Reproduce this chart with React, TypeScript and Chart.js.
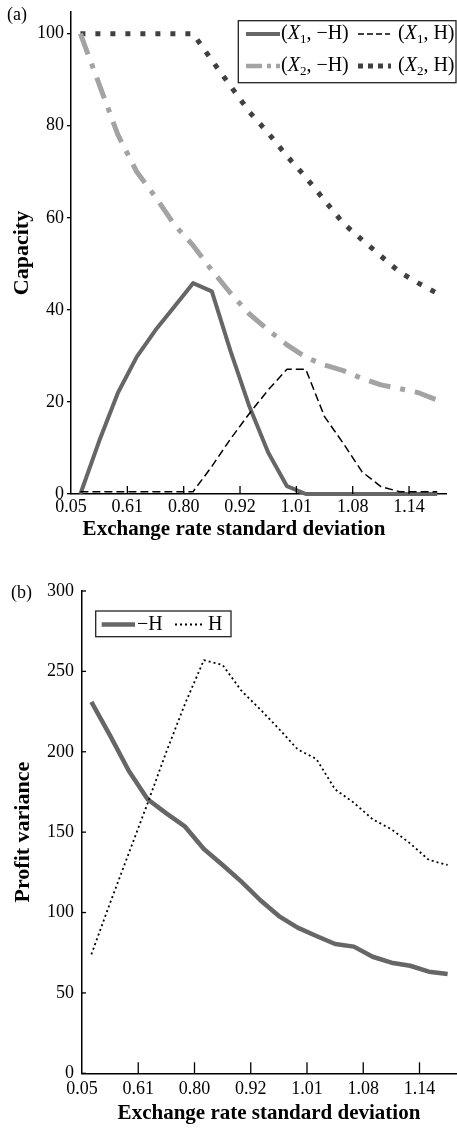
import React, { useEffect, useRef } from "react";
import { Chart, registerables } from "chart.js";

Chart.register(...registerables);

const FONT = "'Liberation Serif', 'Times New Roman', serif";

// ---------- data ----------
const sampleIndex = [0, 1, 2, 3, 4, 5, 6, 7, 8, 9, 10, 11, 12, 13, 14, 15, 16, 17, 18, 19];
const xTickPositions = [-0.5, 2.5, 5.5, 8.5, 11.5, 14.5, 17.5];
const xTickLabels = ["0.05", "0.61", "0.80", "0.92", "1.01", "1.08", "1.14"];

const capacityTicks = [0, 20, 40, 60, 80, 100];
const varianceTicks = [0, 50, 100, 150, 200, 250, 300];

const capX1NoHedge = [0, 11.5, 22, 29.8, 35.6, 40.7, 45.8, 44, 31, 19, 9, 1.7, 0, 0, 0, 0, 0, 0, 0, 0];
const capX1Hedge = [0.5, 0.5, 0.5, 0.5, 0.5, 0.5, 0.5, 6, 12, 17.5, 22.6, 27.1, 27.1, 16.8, 11, 4.8, 1.6, 0.5, 0.5, 0.5];
const capX2NoHedge = [100, 89, 78, 70, 64.5, 58.5, 54, 48.6, 43.6, 39.1, 35.6, 32.4, 29.7, 28, 26.8, 25.1, 23.7, 22.9, 22, 20.4];
const capX2Hedge = [100, 100, 100, 100, 100, 100, 100, 94.2, 88.6, 83, 78.4, 73.4, 68.8, 63.8, 58.8, 55.2, 51.7, 48.2, 45.8, 43.6];

const varNoHedge = [231, 210, 188, 170.5, 161.7, 153.4, 139.5, 129.6, 119.2, 107.8, 97.8, 90.6, 85.4, 80.4, 78.8, 72.5, 68.8, 66.9, 63.2, 61.8];
const varHedge = [74, 106, 137, 168, 200, 230, 257, 254, 238, 226.4, 214.3, 201.5, 195.5, 176.6, 168.3, 158, 151.8, 143, 132.7, 129.6];

const toPoints = (vals: number[]) => sampleIndex.map((x, i) => ({ x, y: vals[i] }));

// ---------- decoration plugin ----------
type Part = { text: string; italic?: boolean; sub?: boolean };
type LegendEntry = {
  y: number; sx0: number; sx1: number; tx: number;
  color: string; width: number; dash: number[]; parts: Part[];
};

function drawRich(ctx: CanvasRenderingContext2D, x: number, y: number, parts: Part[], size: number) {
  let cx = x;
  ctx.textBaseline = "middle";
  ctx.textAlign = "left";
  for (const p of parts) {
    const s = p.sub ? Math.round(size * 0.65) : size;
    ctx.font = `${p.italic ? "italic " : ""}${s}px ${FONT}`;
    ctx.fillText(p.text, cx, y + (p.sub ? size * 0.27 : 0));
    cx += ctx.measureText(p.text).width;
  }
}

const decorPlugin = {
  id: "panelDecor",
  afterDraw(chart: any, _args: any, opts: any) {
    const ctx: CanvasRenderingContext2D = chart.ctx;
    const { left, bottom } = chart.chartArea;
    ctx.save();
    ctx.strokeStyle = "#000";
    ctx.lineWidth = 1.3;
    ctx.setLineDash([]);
    if (opts.innerXTick) {
      const xs = chart.scales.x;
      xs.ticks.forEach((t: any, i: number) => {
        if (i === 0) return;
        const px = xs.getPixelForValue(t.value);
        ctx.beginPath();
        ctx.moveTo(px, bottom);
        ctx.lineTo(px, bottom - opts.innerXTick);
        ctx.stroke();
      });
    }
    if (opts.innerYTick) {
      const ys = chart.scales.y;
      ys.ticks.forEach((t: any) => {
        const py = ys.getPixelForValue(t.value);
        ctx.beginPath();
        ctx.moveTo(left, py);
        ctx.lineTo(left + opts.innerYTick, py);
        ctx.stroke();
      });
    }
    ctx.fillStyle = "#000";
    ctx.textBaseline = "middle";
    ctx.textAlign = "left";
    ctx.font = `18px ${FONT}`;
    ctx.fillText(opts.panelLabel, opts.panelX, opts.panelY);

    ctx.textAlign = "center";
    ctx.font = `bold 21px ${FONT}`;
    ctx.fillText(opts.xTitle, opts.xTitleX, opts.xTitleY);

    if (opts.legend) {
      const [x0, y0, x1, y1] = opts.legend.box;
      ctx.fillStyle = "#fff";
      ctx.fillRect(x0, y0, x1 - x0, y1 - y0);
      ctx.strokeStyle = "#222";
      ctx.lineWidth = 1.3;
      ctx.strokeRect(x0, y0, x1 - x0, y1 - y0);
      (opts.legend.entries as LegendEntry[]).forEach((e) => {
        ctx.save();
        ctx.strokeStyle = e.color;
        ctx.lineWidth = e.width;
        ctx.setLineDash(e.dash);
        ctx.beginPath();
        ctx.moveTo(e.sx0, e.y);
        ctx.lineTo(e.sx1, e.y);
        ctx.stroke();
        ctx.restore();
        ctx.fillStyle = "#000";
        drawRich(ctx, e.tx, e.y, e.parts, 20);
      });
    }
    ctx.restore();
  },
};

// ---------- chart component ----------
function ChartBox({ config, top, height }: { config: any; top: number; height: number }) {
  const ref = useRef<HTMLCanvasElement | null>(null);
  useEffect(() => {
    if (!ref.current) return;
    const chart = new Chart(ref.current, config);
    return () => chart.destroy();
  }, [config]);
  return (
    <div style={{ position: "absolute", left: 0, top, width: 457, height }}>
      <canvas ref={ref} width={457} height={height} style={{ display: "block" }} />
    </div>
  );
}

const tickFont = { family: FONT, size: 18 };
const line = (data: number[], color: string, width: number, dash: number[]) => ({
  data: toPoints(data),
  borderColor: color,
  backgroundColor: color,
  borderWidth: width,
  borderDash: dash,
  pointRadius: 0,
  tension: 0,
  fill: false,
  clip: false,
  borderJoinStyle: "round",
});

const xScale = (height: number, pad: number) => ({
  type: "linear",
  min: -0.5,
  max: 19.5,
  afterBuildTicks: (s: any) => {
    s.ticks = xTickPositions.map((v) => ({ value: v }));
  },
  afterFit: (s: any) => {
    s.height = height;
  },
  ticks: {
    callback: (_v: any, i: number) => xTickLabels[i],
    font: tickFont,
    color: "#000",
    padding: pad,
    autoSkip: false,
    maxRotation: 0,
    minRotation: 0,
  },
  grid: { drawOnChartArea: false, drawTicks: false },
  border: { display: true, color: "#000", width: 1.5 },
});

const TOP_H = 548;
const BOT_TOP = 560;
const BOT_H = 1129 - 560;

const capacityConfig = {
  type: "line",
  data: {
    datasets: [
      { label: "(X1, H)", ...line(capX1Hedge, "#000", 1.5, [8, 4]) },
      { label: "(X1, -H)", ...line(capX1NoHedge, "#666666", 4, []) },
      { label: "(X2, -H)", ...line(capX2NoHedge, "#a3a3a3", 5, [22, 10, 5, 10]) },
      { label: "(X2, H)", ...line(capX2Hedge, "#404040", 5, [5, 10]) },
    ],
  },
  options: {
    animation: false,
    responsive: false,
    devicePixelRatio: 1,
    layout: { padding: { left: 0, right: 10.4, top: 12, bottom: 0 } },
    plugins: {
      legend: { display: false },
      tooltip: { enabled: false },
      panelDecor: {
        innerXTick: 8,
        panelLabel: "(a)",
        panelX: 7,
        panelY: 15,
        xTitle: "Exchange rate standard deviation",
        xTitleX: 234,
        xTitleY: 530,
        legend: {
          box: [238.3, 20.7, 456, 82.7],
          entries: [
            { y: 34, sx0: 246, sx1: 280, tx: 281, color: "#666666", width: 4, dash: [],
              parts: [{ text: "(" }, { text: "X", italic: true }, { text: "1", sub: true }, { text: ", \u2212H)" }] },
            { y: 34, sx0: 358, sx1: 390, tx: 398, color: "#000", width: 1.5, dash: [6, 3],
              parts: [{ text: "(" }, { text: "X", italic: true }, { text: "1", sub: true }, { text: ", H)" }] },
            { y: 66, sx0: 246, sx1: 280, tx: 281, color: "#a3a3a3", width: 4.5, dash: [16, 5, 4, 5],
              parts: [{ text: "(" }, { text: "X", italic: true }, { text: "2", sub: true }, { text: ", \u2212H)" }] },
            { y: 66, sx0: 358, sx1: 391, tx: 398, color: "#404040", width: 5, dash: [5, 5],
              parts: [{ text: "(" }, { text: "X", italic: true }, { text: "2", sub: true }, { text: ", H)" }] },
          ],
        },
      },
    },
    scales: {
      x: xScale(TOP_H - 494, 2),
      y: {
        type: "linear",
        min: 0,
        max: 104.7,
        afterBuildTicks: (s: any) => {
          s.ticks = capacityTicks.map((v) => ({ value: v }));
        },
        afterFit: (s: any) => {
          s.width = 71;
        },
        ticks: { font: { ...tickFont, lineHeight: 1 }, color: "#000", padding: 3 },
        grid: { drawOnChartArea: false, drawTicks: true, tickLength: 4, color: "#000", lineWidth: 1.3 },
        border: { display: true, color: "#000", width: 1.5 },
        title: {
          display: true,
          text: "Capacity",
          color: "#000",
          font: { family: FONT, size: 22, weight: "bold", lineHeight: 1.2 },
          padding: { top: 9.5, bottom: 0 },
        },
      },
    },
  },
  plugins: [decorPlugin],
};

const varianceConfig = {
  type: "line",
  data: {
    datasets: [
      { label: "H", ...line(varHedge, "#000", 1.8, [2, 3]) },
      { label: "-H", ...line(varNoHedge, "#666666", 4.5, []) },
    ],
  },
  options: {
    animation: false,
    responsive: false,
    devicePixelRatio: 1,
    layout: { padding: { left: 0, right: 0, top: 31, bottom: 0 } },
    plugins: {
      legend: { display: false },
      tooltip: { enabled: false },
      panelDecor: {
        innerXTick: 11,
        innerYTick: 4,
        panelLabel: "(b)",
        panelX: 11,
        panelY: 33,
        xTitle: "Exchange rate standard deviation",
        xTitleX: 269,
        xTitleY: 554,
        legend: {
          box: [95.7, 51, 231, 76.7],
          entries: [
            { y: 64.5, sx0: 101.7, sx1: 135, tx: 137, color: "#666666", width: 4.5, dash: [], parts: [{ text: "\u2212H" }] },
            { y: 64.5, sx0: 175, sx1: 204, tx: 208, color: "#000", width: 1.8, dash: [2, 3], parts: [{ text: "H" }] },
          ],
        },
      },
    },
    scales: {
      x: xScale(BOT_H - 513.3, 5),
      y: {
        type: "linear",
        min: 0,
        max: 300,
        afterBuildTicks: (s: any) => {
          s.ticks = varianceTicks.map((v) => ({ value: v }));
        },
        afterFit: (s: any) => {
          s.width = 82;
        },
        ticks: { font: { ...tickFont, lineHeight: 1 }, color: "#000", padding: 8 },
        grid: { drawOnChartArea: false, drawTicks: false },
        border: { display: true, color: "#000", width: 1.5 },
        title: {
          display: true,
          text: "Profit variance",
          color: "#000",
          font: { family: FONT, size: 22, weight: "bold", lineHeight: 1.2 },
          padding: { top: 10.5, bottom: 0 },
        },
      },
    },
  },
  plugins: [decorPlugin],
};

export default function App() {
  return (
    <div style={{ position: "absolute", left: 0, top: 0, width: 457, height: 1129, background: "#fff" }}>
      <ChartBox config={capacityConfig} top={0} height={TOP_H} />
      <ChartBox config={varianceConfig} top={BOT_TOP} height={BOT_H} />
    </div>
  );
}
